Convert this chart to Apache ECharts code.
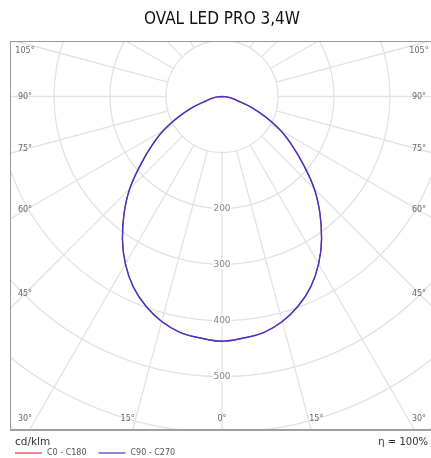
<!DOCTYPE html>
<html>
<head>
<meta charset="utf-8">
<script src="https://cdn.jsdelivr.net/npm/echarts@6/dist/echarts.min.js"></script>
<style>
html, body { margin: 0; padding: 0; background: #fff; }
#chart { width: 431px; height: 458px; }
</style>
</head>
<body>
<div id="chart"></div>
<script>
// gamma 角度 0..180, 每 5 度
var gammaAngles = [0, 5, 10, 15, 20, 25, 30, 35, 40, 45, 50, 55, 60, 65, 70, 75, 80, 85, 90,
  95, 100, 105, 110, 115, 120, 125, 130, 135, 140, 145, 150, 155, 160, 165, 170, 175, 180]
// 光强 cd/klm
var cdC0C180 = [437, 433, 428, 416, 398, 375, 345, 310, 272, 233, 190, 153, 120, 85, 55, 28, 17, 8, 0,
  0, 0, 0, 0, 0, 0, 0, 0, 0, 0, 0, 0, 0, 0, 0, 0, 0, 0]
var cdC90C270 = [437, 433, 428, 416, 398, 375, 345, 310, 272, 233, 190, 153, 120, 85, 55, 28, 17, 8, 0,
  0, 0, 0, 0, 0, 0, 0, 0, 0, 0, 0, 0, 0, 0, 0, 0, 0, 0]
var radiusTicks = [200, 300, 400, 500]
var angleTicks = [0, 15, 30, 45, 60, 75, 90, 105]
var titleText = 'OVAL LED PRO 3,4W'
var unitText = 'cd/klm'
var effText = '\u03b7 = 100%'

// 极坐标中心和尺寸
var CX = 222
var CY = 96.5
var R_MAX = 448 // 对应 800
var BOX = { left: 10, top: 41, bottom: 430 }
var gridColor = '#e2e2e2'
var labelFont = '8px "DejaVu Sans", sans-serif'

// 两个半平面拼成闭合曲线 [radius, angle]
function planeData(values) {
  var data = []
  for (var i = gammaAngles.length - 1; i >= 0; i--) {
    data.push([values[i], gammaAngles[i]])
  }
  for (var j = 1; j < gammaAngles.length; j++) {
    data.push([values[j], 360 - gammaAngles[j]])
  }
  return data
}

// 角度标签放在射线与边框内侧相交处
function angleLabelPos(a, side) {
  if (a === 0) return [CX, 419]
  var rad = a * Math.PI / 180
  var s = Math.sin(rad)
  var c = Math.cos(rad)
  var x = CX + side * 197
  var y = CY + 197 / s * c
  if (y > 419) {
    var t = (BOX.bottom - CY) / c
    x = CX + side * (t * s + 5)
    x = Math.max(25, Math.min(419, x))
    y = 419
  }
  if (y < 51) y = 51
  return [x, y]
}

var graphics = [
  { type: 'rect', shape: { x: 0, y: 0, width: 431, height: BOX.top }, style: { fill: '#fff' }, z: 100, silent: true },
  { type: 'rect', shape: { x: 0, y: 0, width: BOX.left, height: 458 }, style: { fill: '#fff' }, z: 100, silent: true },
  { type: 'rect', shape: { x: 0, y: BOX.bottom, width: 431, height: 458 - BOX.bottom }, style: { fill: '#fff' }, z: 100, silent: true },
  { type: 'line', shape: { x1: BOX.left, y1: BOX.top + 0.5, x2: 431, y2: BOX.top + 0.5 }, style: { stroke: '#9a9a9a', lineWidth: 1 }, z: 110, silent: true },
  { type: 'line', shape: { x1: BOX.left + 0.5, y1: BOX.top, x2: BOX.left + 0.5, y2: BOX.bottom }, style: { stroke: '#9a9a9a', lineWidth: 1 }, z: 110, silent: true },
  { type: 'line', shape: { x1: BOX.left, y1: BOX.bottom, x2: 431, y2: BOX.bottom }, style: { stroke: '#a0a0a0', lineWidth: 2 }, z: 110, silent: true },
  {
    type: 'text', x: CX, y: 20, z: 120, silent: true,
    style: { text: titleText, fill: '#111', font: '17px "DejaVu Sans Condensed", "Liberation Sans Narrow", sans-serif', align: 'center', verticalAlign: 'middle', textAlign: 'center', textVerticalAlign: 'middle' }
  },
  {
    type: 'text', x: 15, y: 442, z: 120, silent: true,
    style: { text: unitText, fill: '#333', font: '10.5px "DejaVu Sans", sans-serif', align: 'left', verticalAlign: 'middle', textAlign: 'left', textVerticalAlign: 'middle' }
  },
  {
    type: 'text', x: 428, y: 442, z: 120, silent: true,
    style: { text: effText, fill: '#333', font: '10px "DejaVu Sans", sans-serif', align: 'right', verticalAlign: 'middle', textAlign: 'right', textVerticalAlign: 'middle' }
  }
]

angleTicks.forEach(function (a) {
  var sides = a === 0 ? [1] : [-1, 1]
  sides.forEach(function (side) {
    var p = angleLabelPos(a, side)
    graphics.push({
      type: 'text', x: p[0], y: p[1], z: 120, silent: true,
      style: { text: a + '\u00b0', fill: '#666', font: labelFont, align: 'center', verticalAlign: 'middle', textAlign: 'center', textVerticalAlign: 'middle' }
    })
  })
})

var myChart = echarts.init(document.getElementById('chart'))
var option = {
  animation: false,
  backgroundColor: '#fff',
  polar: [
    { center: [CX, CY], radius: [56, R_MAX] },
    { center: [CX, CY], radius: [0, R_MAX] }
  ],
  radiusAxis: [
    {
      polarIndex: 0, type: 'value', min: 100, max: 800, interval: 100,
      axisLine: { show: false }, axisTick: { show: false }, axisLabel: { show: false },
      splitLine: { show: true, lineStyle: { color: gridColor, width: 1.3 } }
    },
    {
      polarIndex: 1, type: 'value', min: 0, max: 800, show: false,
      axisLine: { show: false }, axisTick: { show: false }, axisLabel: { show: false },
      splitLine: { show: false }
    }
  ],
  angleAxis: [
    {
      polarIndex: 0, type: 'value', min: 0, max: 360, interval: 15, startAngle: 270,
      axisLine: { show: false }, axisTick: { show: false }, axisLabel: { show: false },
      splitLine: { show: true, lineStyle: { color: gridColor, width: 1.3 } }
    },
    {
      polarIndex: 1, type: 'value', min: 0, max: 360, startAngle: 270, show: false,
      axisLine: { show: false }, axisTick: { show: false }, axisLabel: { show: false },
      splitLine: { show: false }
    }
  ],
  legend: {
    z: 200,
    left: 15,
    top: 449,
    padding: 0,
    itemGap: 12,
    itemWidth: 27,
    itemHeight: 1.2,
    icon: 'rect',
    textStyle: { fontSize: 8, color: '#555', fontFamily: 'DejaVu Sans' },
    data: ['C0 - C180', 'C90 - C270']
  },
  graphic: graphics,
  series: [
    {
      name: 'C0 - C180',
      type: 'line',
      coordinateSystem: 'polar',
      polarIndex: 1,
      symbol: 'none',
      smooth: 0.4,
      color: '#e8364a',
      lineStyle: { color: '#e8364a', width: 1.2 },
      data: planeData(cdC0C180),
      silent: true
    },
    {
      name: 'C90 - C270',
      type: 'line',
      coordinateSystem: 'polar',
      polarIndex: 1,
      symbol: 'none',
      smooth: 0.4,
      color: '#3d38c8',
      lineStyle: { color: '#3d38c8', width: 1.4 },
      data: planeData(cdC90C270),
      silent: true
    },
    {
      // 半径刻度标签
      name: 'radius-labels',
      type: 'scatter',
      coordinateSystem: 'polar',
      polarIndex: 1,
      symbolSize: 0,
      silent: true,
      z: 5,
      label: {
        show: true,
        position: 'inside',
        formatter: function (p) { return p.value[0] },
        color: '#666',
        fontSize: 9,
        fontFamily: 'DejaVu Sans',
        backgroundColor: '#fff',
        padding: [1, 1]
      },
      data: radiusTicks.map(function (v) { return [v, 0] })
    }
  ]
}
option && myChart.setOption(option)
</script>
</body>
</html>
